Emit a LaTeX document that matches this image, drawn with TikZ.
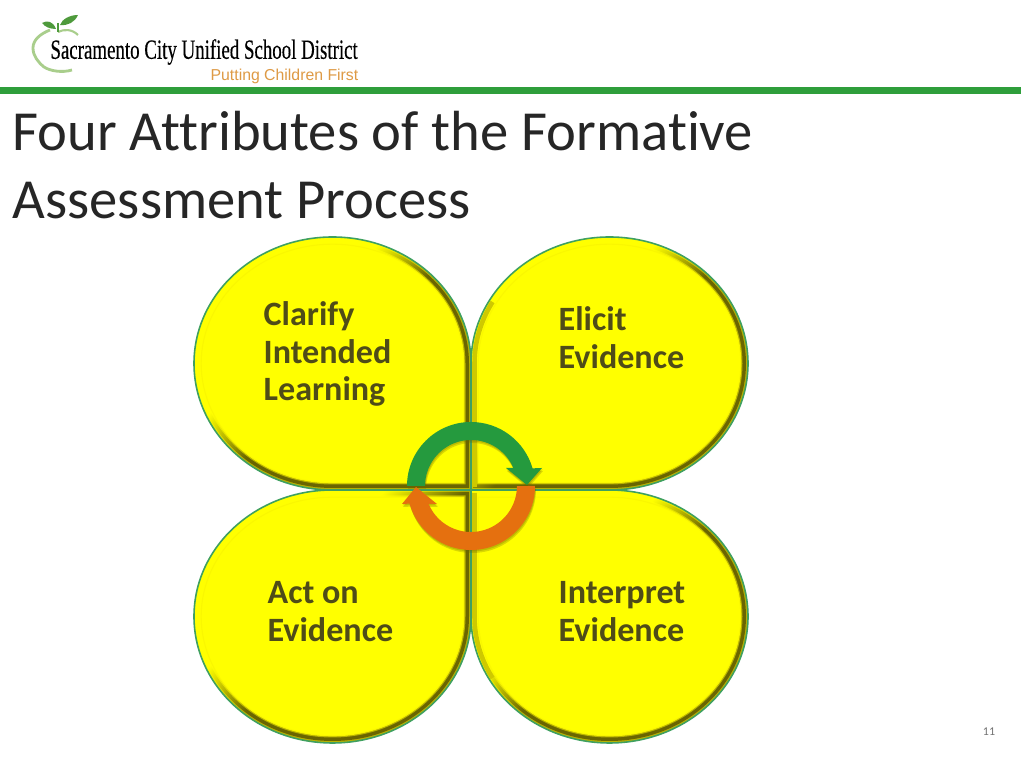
\documentclass[tikz,border=0pt]{standalone}
\usepackage{fontspec}
\setmainfont[Ligatures=CommonOff]{Carlito}
\newfontfamily\logoserif{Liberation Serif}
\newfontfamily\logosans{Liberation Sans}
\definecolor{barGreen}{HTML}{2E9E3B}
\definecolor{rimGreen}{HTML}{3FA060}
\definecolor{lobeYellow}{HTML}{FFFF00}
\definecolor{rimLight}{HTML}{B8B200}
\definecolor{rimDark}{HTML}{6A6500}
\definecolor{rimPale}{HTML}{FAF700}
\definecolor{rimBand}{HTML}{CFC900}
\definecolor{labelDark}{HTML}{4F4C18}
\definecolor{arrowGreen}{HTML}{259A3E}
\definecolor{arrowOrange}{HTML}{E5700F}
\definecolor{logoOrange}{HTML}{DE9A45}
\definecolor{appleGreen}{HTML}{A9CE8C}
\definecolor{leafGreen}{HTML}{4E9A3C}
\pgfdeclareverticalshading{rimshadelight}{100bp}{color(0bp)=(rimLight); color(49bp)=(rimLight); color(60bp)=(lobeYellow); color(100bp)=(lobeYellow)}
\pgfdeclareverticalshading{rimshadedark}{100bp}{color(0bp)=(rimDark); color(49bp)=(rimDark); color(60bp)=(lobeYellow); color(100bp)=(lobeYellow)}
\tikzset{
    lobelabel/.style={font=\fontsize{9.7}{10.7}\selectfont\bfseries, text=labelDark, align=left, anchor=north west, inner sep=0pt},
    titleline/.style={font=\fontsize{16.1}{19.3}\selectfont, text=black!85, align=left, anchor=north west, inner sep=0pt},
    shadowlayer/.style={rimDark, opacity=0.25}
}
% #1 is how far the outline lies inside the petal
\newcommand{\lobepath}[1]{(-#1,#1) -- (-#1,1.265) arc (0:90:{1.385-#1} and {1.265-#1}) arc (90:180:{1.385-#1} and {1.265-#1}) arc (180:270:{1.385-#1} and {1.265-#1}) -- cycle}
% one petal: #1 and #2 are the flips, the corner stays at the middle of the slide
\newcommand{\lobe}[2]{
    \begin{scope}[shift={(4.71,2.78)}, xscale=#1, yscale=#2]
        \shade[shading=rimshadelight, shading angle=45] \lobepath{0};
        \shade[shading=rimshadedark, shading angle=45] \lobepath{0.02};
        \shade[shading=rimshadelight, shading angle=45] \lobepath{0.055};
        \ifnum#1=-1
            \draw[rimBand, line width=1.3pt] (-0.035,0.03) -- (-0.035,1.265) arc (0:30:1.35 and 1.23);
        \fi
        \fill[lobeYellow] \lobepath{0.072};
        \draw[rimPale, line width=0.3pt] \lobepath{0.072};
        \draw[rimGreen, line width=0.45pt] \lobepath{0};
    \end{scope}
}
\newcommand{\greenarrow}{(4.07,2.82) arc (180:16:0.64) -- (5.42,3) -- (5.27,2.83) -- (5.06,3) -- (5.134,3) arc (23:180:0.46) -- cycle}
\newcommand{\orangearrow}{(5.35,2.82) arc (0:-164:0.64) -- (4.02,2.64) -- (4.16,2.81) -- (4.37,2.64) -- (4.286,2.64) arc (-157:0:0.46) -- cycle}
\begin{document}
\begin{tikzpicture}
    \useasboundingbox (0,0) rectangle (10.24,7.68);
    \fill[white] (0,0) rectangle (10.24,7.68);

    % logo
    \draw[appleGreen, line width=0.8pt] (0.5,7.38) .. controls (0.4,7.34) and (0.33,7.28) .. (0.33,7.2)
        .. controls (0.33,7.12) and (0.38,7.06) .. (0.44,7.01) .. controls (0.5,6.97) and (0.62,6.95) .. (0.72,6.98);
    \draw[appleGreen, line width=0.6pt] (0.58,7.36) .. controls (0.64,7.39) and (0.72,7.39) .. (0.78,7.33);
    \draw[leafGreen, line width=0.5pt] (0.58,7.45) -- (0.58,7.36);
    \fill[leafGreen] (0.42,7.45) .. controls (0.47,7.48) and (0.53,7.47) .. (0.56,7.39)
        .. controls (0.5,7.39) and (0.45,7.41) .. (0.42,7.45) -- cycle;
    \fill[leafGreen] (0.6,7.43) .. controls (0.62,7.49) and (0.7,7.53) .. (0.78,7.53)
        .. controls (0.75,7.46) and (0.68,7.42) .. (0.6,7.43) -- cycle;
    \node[inner sep=0pt, anchor=west, xscale=0.68] (logotext) at (0.5,7.16)
        {\fontsize{7.9}{8}\logoserif\addfontfeature{FakeBold=0.4} Sacramento City Unified School District};
    \node[inner sep=0pt, anchor=east, font=\fontsize{4.5}{5}\logosans, text=logoOrange] (slogan) at (3.59,6.92) {Putting Children First};
    \fill[barGreen] (0,6.74) rectangle (10.21,6.81);

    % title
    \node[titleline] (title) at (0.12,6.57) {Four Attributes of the Formative\\Assessment Process};

    % four petals
    \lobe{1}{1}
    \lobe{-1}{1}
    \lobe{1}{-1}
    \lobe{-1}{-1}

    \node[lobelabel] (clarify) at (2.63,4.67) {Clarify\\Intended\\Learning};
    \node[lobelabel] (elicit) at (5.58,4.62) {Elicit\\Evidence};
    \node[lobelabel] (acton) at (2.67,1.87) {Act on\\Evidence};
    \node[lobelabel] (interpret) at (5.58,1.87) {Interpret\\Evidence};

    % cycle arrows
    \fill[shadowlayer, shift={(0.005,-0.015)}] \greenarrow;
    \fill[shadowlayer, shift={(0.01,-0.03)}] \greenarrow;
    \fill[shadowlayer, shift={(0.005,-0.015)}] \orangearrow;
    \fill[shadowlayer, shift={(0.01,-0.03)}] \orangearrow;
    \fill[arrowGreen] \greenarrow;
    \fill[arrowOrange] \orangearrow;

    \node[inner sep=0pt, font=\fontsize{3.4}{4}\selectfont, text=black!55] (pagenum) at (9.89,0.36) {11};
\end{tikzpicture}
\end{document}
